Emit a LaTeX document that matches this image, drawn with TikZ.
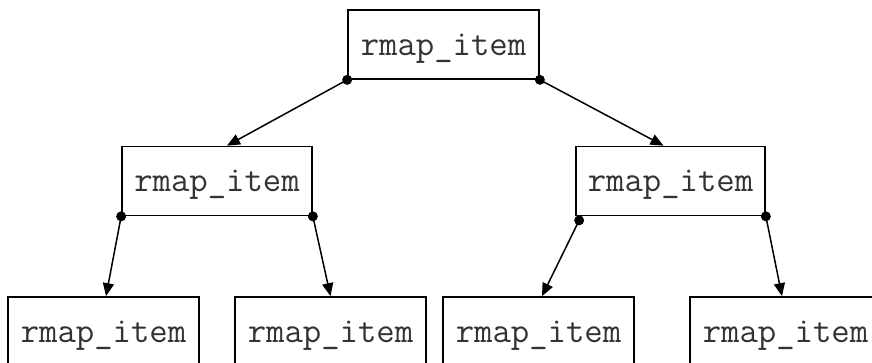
\documentclass[tikz,border=0pt]{standalone}
\usetikzlibrary{arrows.meta,calc}
\begin{document}
\begin{tikzpicture}[x=1pt,y=-1pt,
  item/.style={draw,line width=1.7pt,rectangle,inner sep=0pt,
    minimum width=191pt,minimum height=69pt,text height=45pt,text depth=24pt,
    text=black!80,font=\ttfamily\fontsize{35.7}{40}\selectfont},
  link/.style={line width=1.5pt,-{Triangle[length=13pt,width=11pt]}},
  joint/.style={fill,circle,inner sep=0pt,minimum size=10pt}]
\useasboundingbox (0,0) rectangle (872,362);
\clip (0,0) rectangle (872,362);

% tree of items
\node[item] (root) at (443.5,44.5) {rmap\_item};
\node[item,minimum width=190pt] (l) at (217,181) {rmap\_item};
\node[item,minimum width=189pt] (r) at (670.5,181) {rmap\_item};
\node[item] (ll) at (103.5,331.5) {rmap\_item};
\node[item] (lr) at (330.5,331.5) {rmap\_item};
\node[item] (rl) at (538.5,331.5) {rmap\_item};
\node[item] (rr) at (785.5,331.5) {rmap\_item};

% link start points
\coordinate (a1) at (root.south west);
\coordinate (a2) at (root.south east);
\coordinate (b1) at (l.south west);
\coordinate (b2) at (l.south east);
\coordinate (c1) at ($(r.south west)+(4,4)$);
\coordinate (c2) at (r.south east);

% links
\draw[link] (a1) -- ($(l.north)+(10,0)$);
\draw[link] (a2) -- ($(r.north)+(-7,0)$);
\draw[link] (b1) -- ($(ll.north)+(2.5,0)$);
\draw[link] (b2) -- (lr.north);
\draw[link] (c1) -- ($(rl.north)+(3.5,0)$);
\draw[link] (c2) -- ($(rr.north)+(-3.5,0)$);

% joints
\foreach \p in {a1,a2,b1,b2,c1,c2} \node[joint] at (\p) {};
\end{tikzpicture}
\end{document}
